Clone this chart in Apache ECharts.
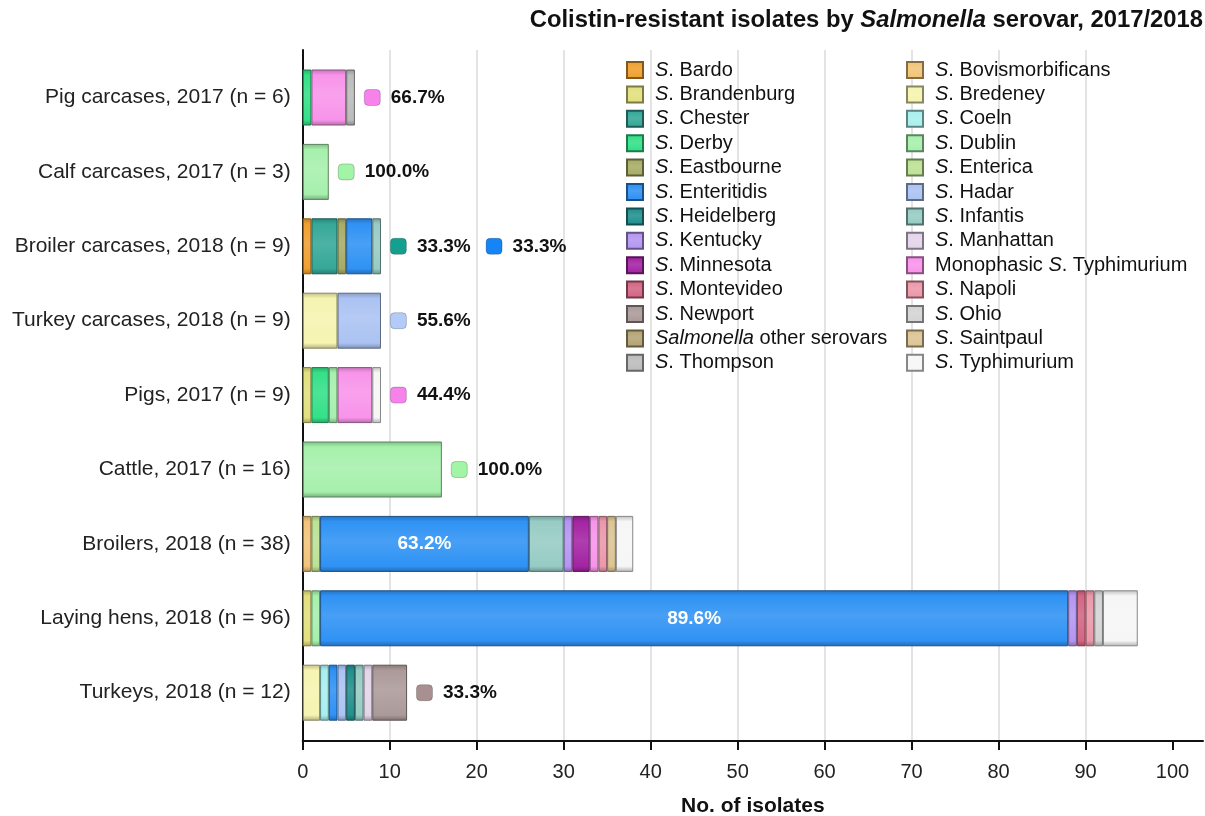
<!DOCTYPE html>
<html>
<head>
<meta charset="utf-8">
<script src="https://cdn.jsdelivr.net/npm/echarts@6/dist/echarts.min.js"></script>
<style>
html,body{margin:0;padding:0;background:#fff;}
#chart{width:1205px;height:816px;}
</style>
</head>
<body>
<div id="chart"></div>
<script>
// ---------- DATA ----------
const categories = [
  'Pig carcases, 2017 (n = 6)',
  'Calf carcases, 2017 (n = 3)',
  'Broiler carcases, 2018 (n = 9)',
  'Turkey carcases, 2018 (n = 9)',
  'Pigs, 2017 (n = 9)',
  'Cattle, 2017 (n = 16)',
  'Broilers, 2018 (n = 38)',
  'Laying hens, 2018 (n = 96)',
  'Turkeys, 2018 (n = 12)'
];
const serovars = [
  'S. Bardo','S. Bovismorbificans','S. Brandenburg','S. Bredeney','S. Chester','S. Coeln',
  'S. Derby','S. Dublin','S. Eastbourne','S. Enterica','S. Enteritidis','S. Hadar',
  'S. Heidelberg','S. Infantis','S. Kentucky','S. Manhattan','S. Minnesota','Monophasic S. Typhimurium',
  'S. Montevideo','S. Napoli','S. Newport','S. Ohio','Salmonella other serovars','S. Saintpaul',
  'S. Thompson','S. Typhimurium'
];
const bardo            = [0,0,1,0,0,0,0,0,0];
const bovismorbificans = [0,0,0,0,0,0,1,0,0];
const brandenburg      = [0,0,0,0,1,0,0,1,0];
const bredeney         = [0,0,0,4,0,0,0,0,2];
const chester          = [0,0,3,0,0,0,0,0,0];
const coeln            = [0,0,0,0,0,0,0,0,1];
const derby            = [1,0,0,0,2,0,0,0,0];
const dublin           = [0,3,0,0,1,16,0,1,0];
const eastbourne       = [0,0,1,0,0,0,0,0,0];
const enterica         = [0,0,0,0,0,0,1,0,0];
const enteritidis      = [0,0,3,0,0,0,24,86,1];
const hadar            = [0,0,0,5,0,0,0,0,1];
const heidelberg       = [0,0,0,0,0,0,0,0,1];
const infantis         = [0,0,1,0,0,0,4,0,1];
const kentucky         = [0,0,0,0,0,0,1,1,0];
const manhattan        = [0,0,0,0,0,0,0,0,1];
const minnesota        = [0,0,0,0,0,0,2,0,0];
const monophasic       = [4,0,0,0,4,0,1,0,0];
const montevideo       = [0,0,0,0,0,0,0,1,0];
const napoli           = [0,0,0,0,0,0,1,1,0];
const newport          = [0,0,0,0,0,0,0,0,4];
const ohio             = [0,0,0,0,0,0,0,1,0];
const otherSerovars    = [0,0,0,0,0,0,0,0,0];
const saintpaul        = [0,0,0,0,0,0,1,0,0];
const thompson         = [1,0,0,0,0,0,0,0,0];
const typhimurium      = [0,0,0,0,1,0,2,4,0];
const seriesValues = [bardo,bovismorbificans,brandenburg,bredeney,chester,coeln,derby,dublin,
  eastbourne,enterica,enteritidis,hadar,heidelberg,infantis,kentucky,manhattan,minnesota,monophasic,
  montevideo,napoli,newport,ohio,otherSerovars,saintpaul,thompson,typhimurium];

// labels written inside the Enteritidis segments
const insideLabelRows  = [6, 7];
const insideLabelTexts = ['63.2%', '89.6%'];

// annotations (dominant serovar share) next to bars
const annotRows    = [0, 1, 2, 2, 3, 4, 5, 8];
const annotX       = [8, 5, 11, 22, 11, 11, 18, 14];
const annotSerovar = ['Monophasic S. Typhimurium','S. Dublin','S. Chester','S. Enteritidis','S. Hadar','Monophasic S. Typhimurium','S. Dublin','S. Newport'];
const annotText    = ['66.7%','100.0%','33.3%','33.3%','55.6%','44.4%','100.0%','33.3%'];

const xTicks = [0,10,20,30,40,50,60,70,80,90,100];

// ---------- STYLE ----------
const colors = {
  'S. Bardo':'#f0a030','S. Bovismorbificans':'#f2c478','S. Brandenburg':'#e2e07e','S. Bredeney':'#f6f4b0',
  'S. Chester':'#35a898','S. Coeln':'#a8f0ee','S. Derby':'#34e088','S. Dublin':'#a6f0ac',
  'S. Eastbourne':'#a8ac66','S. Enterica':'#bce294','S. Enteritidis':'#2f92f4','S. Hadar':'#abc3f2',
  'S. Heidelberg':'#22908e','S. Infantis':'#96ccc4','S. Kentucky':'#b496f2','S. Manhattan':'#e4d4ea',
  'S. Minnesota':'#a424a4','Monophasic S. Typhimurium':'#f894ea','S. Montevideo':'#d46684','S. Napoli':'#ec98aa',
  'S. Newport':'#ac9a9a','S. Ohio':'#d4d4d4','Salmonella other serovars':'#b4a474','S. Saintpaul':'#dcc494',
  'S. Thompson':'#bcbcbc','S. Typhimurium':'#f6f6f6'
};
const annotColors = {
  'Monophasic S. Typhimurium':'#f882ec','S. Dublin':'#a2f4a6','S. Chester':'#14a08e',
  'S. Enteritidis':'#1484f6','S. Hadar':'#b2cbf8','S. Newport':'#a89090'
};
function shade(hex, f){
  const n = parseInt(hex.slice(1),16);
  let r=(n>>16)&255,g=(n>>8)&255,b=n&255;
  const fn = c => Math.round(f<0 ? c*(1+f) : c+(255-c)*f);
  return 'rgb('+fn(r)+','+fn(g)+','+fn(b)+')';
}
function grad(c){
  return new echarts.graphic.LinearGradient(0,0,0,1,[
    {offset:0,color:shade(c,-0.22)},
    {offset:0.1,color:c},
    {offset:0.45,color:shade(c,0.12)},
    {offset:0.9,color:c},
    {offset:1,color:shade(c,-0.28)}
  ]);
}
const FONT = '"Liberation Sans", Arial, sans-serif';

function fmtName(name){
  if (name === 'Salmonella other serovars') return '{i|Salmonella} other serovars';
  if (name.startsWith('Monophasic S. ')) return 'Monophasic {i|S}. ' + name.slice(14);
  if (name.startsWith('S. ')) return '{i|S}. ' + name.slice(3);
  return name;
}

const PX0 = 302.7, XMAX = 103.5;
const leftCol = serovars.filter((_, i) => i % 2 === 0);
const rightCol = serovars.filter((_, i) => i % 2 === 1);

const barSeries = serovars.map((name, si) => {
  const c = colors[name];
  return {
    name: name,
    type: 'bar',
    stack: 'total',
    xAxisIndex: 1,
    yAxisIndex: 1,
    barWidth: 56,
    itemStyle: { color: grad(c), borderColor: shade(c, -0.45), borderWidth: 1 },
    emphasis: { disabled: true },
    data: seriesValues[si].map((v, ri) => {
      const k = name === 'S. Enteritidis' ? insideLabelRows.indexOf(ri) : -1;
      const item = { value: v === 0 ? null : v };
      if (k >= 0) {
        item.label = { show: true, position: 'inside', formatter: insideLabelTexts[k],
          color: '#ffffff', fontWeight: 'bold', fontSize: 19, fontFamily: FONT };
      }
      return item;
    })
  };
});

const annotSeries = {
  type: 'scatter',
  xAxisIndex: 1,
  yAxisIndex: 1,
  symbol: 'roundRect',
  symbolSize: 16,
  z: 5,
  emphasis: { disabled: true },
  itemStyle: { opacity: 1 },
  data: annotRows.map((r, i) => ({
    value: [annotX[i], r],
    itemStyle: { color: annotColors[annotSerovar[i]], borderColor: 'rgba(0,0,0,0.2)', borderWidth: 1, opacity: 1 },
    label: { show: true, position: 'right', distance: 10, formatter: annotText[i],
      color: '#111', fontWeight: 'bold', fontSize: 19, fontFamily: FONT }
  }))
};

const legendBase = {
  orient: 'vertical',
  itemWidth: 16,
  itemHeight: 16,
  itemGap: 4.4,
  padding: 0,
  icon: 'rect',
  selectedMode: false,
  formatter: fmtName,
  textStyle: {
    fontFamily: FONT, fontSize: 20, color: '#111', lineHeight: 20,
    padding: [0, 0, 0, 7],
    rich: { i: { fontStyle: 'italic', fontFamily: FONT, fontSize: 20, color: '#111', lineHeight: 20 } }
  }
};

const chart = echarts.init(document.getElementById('chart'), null, { renderer: 'canvas' });
chart.setOption({
  animation: false,
  backgroundColor: '#ffffff',
  title: {
    text: 'Colistin-resistant isolates by {i|Salmonella} serovar, 2017/2018',
    right: 2, top: 8, padding: 0,
    textStyle: {
      fontFamily: FONT, fontSize: 23.8, fontWeight: 'bold', color: '#111',
      rich: { i: { fontFamily: FONT, fontSize: 23.8, fontWeight: 'bold', fontStyle: 'italic', color: '#111' } }
    }
  },
  legend: [
    Object.assign({}, legendBase, { left: 626, top: 60, data: leftCol }),
    Object.assign({}, legendBase, { left: 906, top: 60, data: rightCol })
  ],
  grid: [
    { left: PX0, right: 2, top: 50, bottom: 75, containLabel: false, outerBoundsMode: 'none' },
    { left: PX0, right: 2, top: 60.3, height: 669.6, containLabel: false, outerBoundsMode: 'none' }
  ],
  xAxis: [
    {
      gridIndex: 0, type: 'value', min: 0, max: XMAX, interval: 10,
      axisLine: { show: true, onZero: false, lineStyle: { color: '#111', width: 2 } },
      axisTick: { show: true, length: 9, lineStyle: { color: '#111', width: 2 }, customValues: xTicks },
      axisLabel: { fontFamily: FONT, fontSize: 20, color: '#222', margin: 21, customValues: xTicks },
      splitLine: { show: true, showMaxLine: false, lineStyle: { color: '#dadada', width: 1.5 } },
      name: 'No. of isolates', nameLocation: 'middle', nameGap: 55,
      nameTextStyle: { fontFamily: FONT, fontSize: 21, fontWeight: 'bold', color: '#111' }
    },
    { gridIndex: 1, type: 'value', min: 0, max: XMAX, show: false }
  ],
  yAxis: [
    {
      gridIndex: 0, type: 'value', min: 0, max: 1,
      axisLine: { show: true, onZero: false, lineStyle: { color: '#111', width: 2 } },
      axisTick: { show: false }, axisLabel: { show: false }, splitLine: { show: false }
    },
    {
      gridIndex: 1, type: 'category', data: categories, inverse: true,
      axisLine: { show: false }, axisTick: { show: false }, splitLine: { show: false },
      axisLabel: { fontFamily: FONT, fontSize: 21, color: '#222', margin: 12 }
    }
  ],
  series: barSeries.concat([annotSeries])
});
</script>
</body>
</html>
